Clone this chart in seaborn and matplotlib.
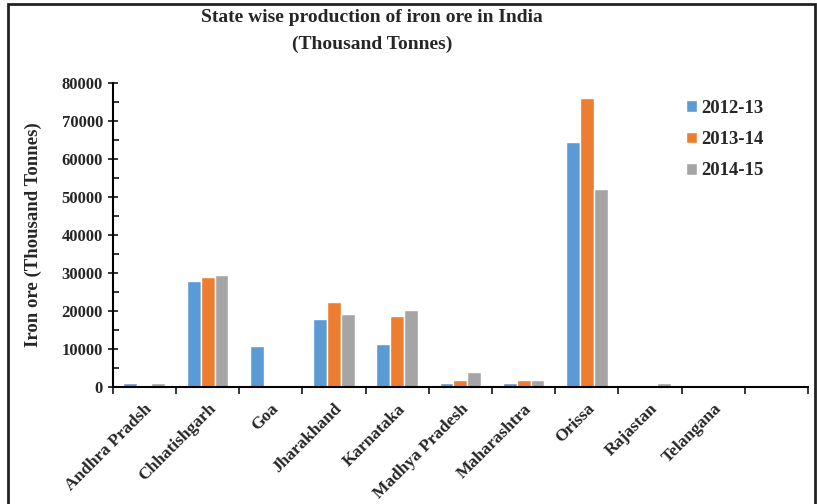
import numpy as np
import pandas as pd
import matplotlib
matplotlib.use("Agg")
import matplotlib.pyplot as plt
import seaborn as sns
from matplotlib.patches import Rectangle
from matplotlib.ticker import MultipleLocator

# ---- Data ----
states = ["Andhra Pradsh", "Chhatishgarh", "Goa", "Jharakhand", "Karnataka",
          "Madhya Pradesh", "Maharashtra", "Orissa", "Rajastan", "Telangana"]
years = ["2012-13", "2013-14", "2014-15"]
prod_2012 = [1000, 27800, 10800, 17900, 11400, 1200, 1200, 64500, 0, 50]
prod_2013 = [600, 29100, 0, 22500, 18600, 1900, 1900, 76200, 500, 50]
prod_2014 = [1000, 29400, 0, 19300, 20200, 3900, 1900, 52100, 1000, 50]
colors = ["#5B9BD5", "#ED7D31", "#A5A5A5"]

df = pd.DataFrame({"state": states * 3,
                   "year": np.repeat(years, len(states)),
                   "value": prod_2012 + prod_2013 + prod_2014})

# ---- Plot ----
sns.set_style("white")
plt.rcParams["font.family"] = ["Liberation Serif", "DejaVu Serif"]
plt.rcParams["font.weight"] = "bold"

fig = plt.figure(figsize=(8.17, 5.04), dpi=100)
ax = fig.add_axes([0.138, 0.232, 0.851, 0.603])

order = states + [""]  # Excel chart leaves an empty slot at the end
sns.barplot(data=df, x="state", y="value", hue="year", order=order,
            palette=colors, width=0.66, gap=0, errorbar=None, ax=ax, saturation=1)

ax.set_xlim(-0.5, len(order) - 0.5)
ax.set_ylim(0, 80000)
ax.yaxis.set_major_locator(MultipleLocator(10000))
ax.yaxis.set_minor_locator(MultipleLocator(5000))
ax.tick_params(axis="y", which="major", direction="inout", length=7, width=1.3, labelsize=12, left=True)
ax.tick_params(axis="y", which="minor", direction="in", length=4, width=1.3, left=True)
for lab in ax.get_yticklabels():
    lab.set_fontweight("bold")

# category boundaries as tick marks, names at centres
ax.set_xticks(np.arange(len(order) + 1) - 0.5)
ax.set_xticklabels([])
ax.set_xticks(np.arange(len(states)), minor=True)
ax.set_xticklabels(states, minor=True, rotation=45, ha="right", rotation_mode="anchor",
                   fontsize=12.5, fontweight="bold")
ax.tick_params(axis="x", which="major", direction="out", length=5, width=1.3, bottom=True)
ax.tick_params(axis="x", which="minor", length=0, pad=10)

sns.despine(ax=ax)
for s in ["left", "bottom"]:
    ax.spines[s].set_linewidth(1.5)
    ax.spines[s].set_color("black")

ax.set_xlabel("")
ax.set_ylabel("Iron ore (Thousand Tonnes)", fontsize=13.5, fontweight="bold", labelpad=14)

leg = ax.legend(title=None, loc="upper left", bbox_to_anchor=(0.8, 1.0), frameon=False,
                fontsize=13.5, handlelength=0.6, handleheight=0.6, handletextpad=0.2,
                labelspacing=0.75)
for t in leg.get_texts():
    t.set_fontweight("bold")

fig.text(0.455, 0.982, "State wise production of iron ore in India\n(Thousand Tonnes)",
         ha="center", va="top", fontsize=14, fontweight="bold", linespacing=1.7)

fig.patches.append(Rectangle((0.01, -0.01), 0.988, 1.002, transform=fig.transFigure,
                             fill=False, edgecolor="#222222", linewidth=2))

fig.savefig("out.png", dpi=100)
